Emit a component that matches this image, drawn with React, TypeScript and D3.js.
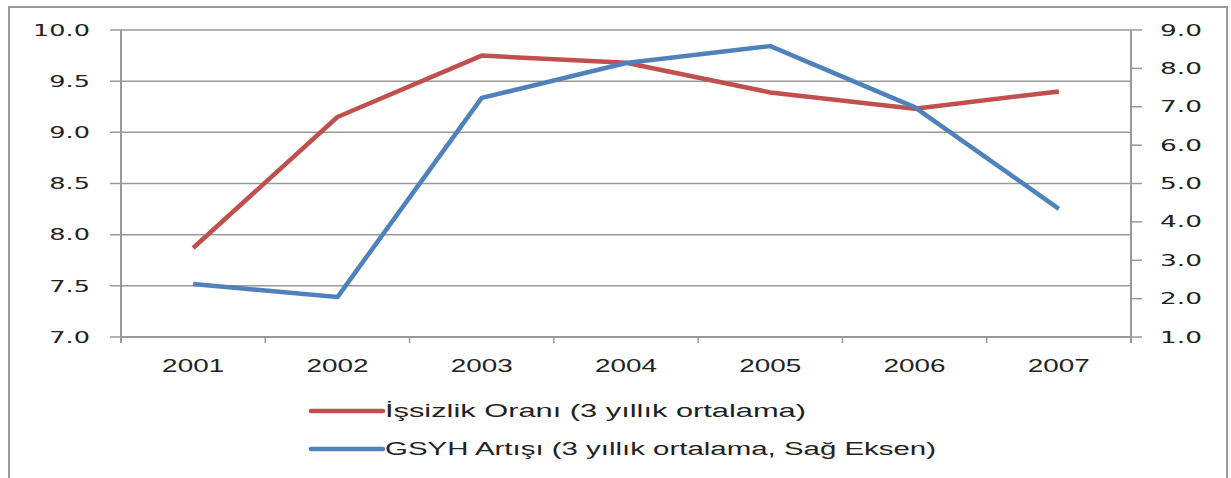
import React from "react";
import * as d3 from "d3";

// values
const years = ["2001", "2002", "2003", "2004", "2005", "2006", "2007"];
const unemployment = [7.87, 9.15, 9.75, 9.68, 9.39, 9.23, 9.4];
const gdpGrowth = [2.38, 2.04, 7.23, 8.14, 8.58, 6.99, 4.34];
const leftTicks = [7.0, 7.5, 8.0, 8.5, 9.0, 9.5, 10.0];
const rightTicks = [1, 2, 3, 4, 5, 6, 7, 8, 9];
const legendLabels = [
  "İşsizlik Oranı (3 yıllık ortalama)",
  "GSYH Artışı (3 yıllık ortalama, Sağ Eksen)",
];

const width = 1231;
const height = 478;
const margin = { top: 30, right: 100, bottom: 141, left: 121 };
const red = "#C0504D";
const blue = "#4F81BD";
const grid = "#999999";
const tickFont = "'DejaVu Sans', Verdana, sans-serif";
const labelFont = "'Liberation Sans', Arial, sans-serif";

export default function App() {
  const x = d3
    .scaleBand()
    .domain(years)
    .range([margin.left, width - margin.right]);
  const yLeft = d3
    .scaleLinear()
    .domain([7, 10])
    .range([height - margin.bottom, margin.top]);
  const yRight = d3
    .scaleLinear()
    .domain([1, 9])
    .range([height - margin.bottom, margin.top]);
  const cx = (d: string) => (x(d) ?? 0) + x.bandwidth() / 2;

  const redLine = d3
    .line<number>()
    .x((_, i) => cx(years[i]))
    .y((d) => yLeft(d));
  const blueLine = d3
    .line<number>()
    .x((_, i) => cx(years[i]))
    .y((d) => yRight(d));

  const x0 = margin.left;
  const x1 = width - margin.right;
  const yBottom = height - margin.bottom;

  return (
    <svg
      width={width}
      height={height}
      style={{ position: "absolute", left: 0, top: 0, background: "#fff" }}
    >
      {/* title, cut off at the top of the picture */}
      <text y={-5} fill="#00B0F0" fontFamily={labelFont} fontSize={18}>
        <tspan x={190}>Büyüme ve İşsizlik Oranları</tspan>
        <tspan x={490}>(2001-2007)</tspan>
      </text>

      {/* outer frame (no bottom edge visible) */}
      <path
        d={`M9,${height} V7 H1227 V${height}`}
        fill="none"
        stroke="#9a9a9a"
        strokeWidth={2}
      />

      {/* horizontal grid + left ticks */}
      {leftTicks.map((t) => (
        <line
          key={"g" + t}
          x1={x0 - 11}
          x2={x1}
          y1={yLeft(t)}
          y2={yLeft(t)}
          stroke={grid}
          strokeWidth={1.5}
        />
      ))}
      {/* right ticks */}
      {rightTicks.map((t) => (
        <line
          key={"r" + t}
          x1={x1}
          x2={x1 + 11}
          y1={yRight(t)}
          y2={yRight(t)}
          stroke={grid}
          strokeWidth={1.5}
        />
      ))}
      {/* x axis ticks */}
      {years.concat(["end"]).map((d, i) => {
        const xx = margin.left + i * x.step();
        return (
          <line
            key={"x" + d}
            x1={xx}
            x2={xx}
            y1={yBottom}
            y2={yBottom + 6}
            stroke={grid}
            strokeWidth={1.5}
          />
        );
      })}
      {/* axis lines */}
      <line x1={x0} x2={x0} y1={margin.top} y2={yBottom + 6} stroke={grid} strokeWidth={2} />
      <line x1={x1} x2={x1} y1={margin.top} y2={yBottom + 6} stroke={grid} strokeWidth={2} />
      <line x1={x0} x2={x1} y1={yBottom} y2={yBottom} stroke={grid} strokeWidth={2} />

      {/* left tick labels */}
      {leftTicks.map((t) => (
        <text
          key={"lt" + t}
          transform={`translate(90,${yLeft(t)}) scale(1.55,1)`}
          textAnchor="end"
          dominantBaseline="central"
          fontFamily={tickFont}
          fontSize={16.5}
          fill="#222"
        >
          {t.toFixed(1)}
        </text>
      ))}
      {/* right tick labels */}
      {rightTicks.map((t) => (
        <text
          key={"rt" + t}
          transform={`translate(1160,${yRight(t)}) scale(1.6,1)`}
          textAnchor="start"
          dominantBaseline="central"
          fontFamily={tickFont}
          fontSize={16.5}
          fill="#222"
        >
          {t.toFixed(1)}
        </text>
      ))}
      {/* x labels */}
      {years.map((d) => (
        <text
          key={"xl" + d}
          transform={`translate(${cx(d)},366) scale(1.55,1)`}
          textAnchor="middle"
          dominantBaseline="central"
          fontFamily={labelFont}
          fontSize={18}
          fill="#222"
        >
          {d}
        </text>
      ))}

      {/* series */}
      <path
        d={redLine(unemployment) ?? ""}
        fill="none"
        stroke={red}
        strokeWidth={4.5}
        strokeLinejoin="round"
      />
      <path
        d={blueLine(gdpGrowth) ?? ""}
        fill="none"
        stroke={blue}
        strokeWidth={4.5}
        strokeLinejoin="round"
      />

      {/* legend */}
      {legendLabels.map((label, i) => {
        const ly = 411 + i * 38;
        return (
          <g key={label}>
            <line
              x1={311}
              x2={383}
              y1={ly}
              y2={ly}
              stroke={i === 0 ? red : blue}
              strokeWidth={4.5}
              strokeLinecap="round"
            />
            <text
              x={385}
              y={ly}
              dominantBaseline="central"
              fontFamily={labelFont}
              fontSize={18}
              fill="#222"
              textLength={i === 0 ? 421 : 551}
              lengthAdjust="spacingAndGlyphs"
            >
              {label}
            </text>
          </g>
        );
      })}
    </svg>
  );
}
